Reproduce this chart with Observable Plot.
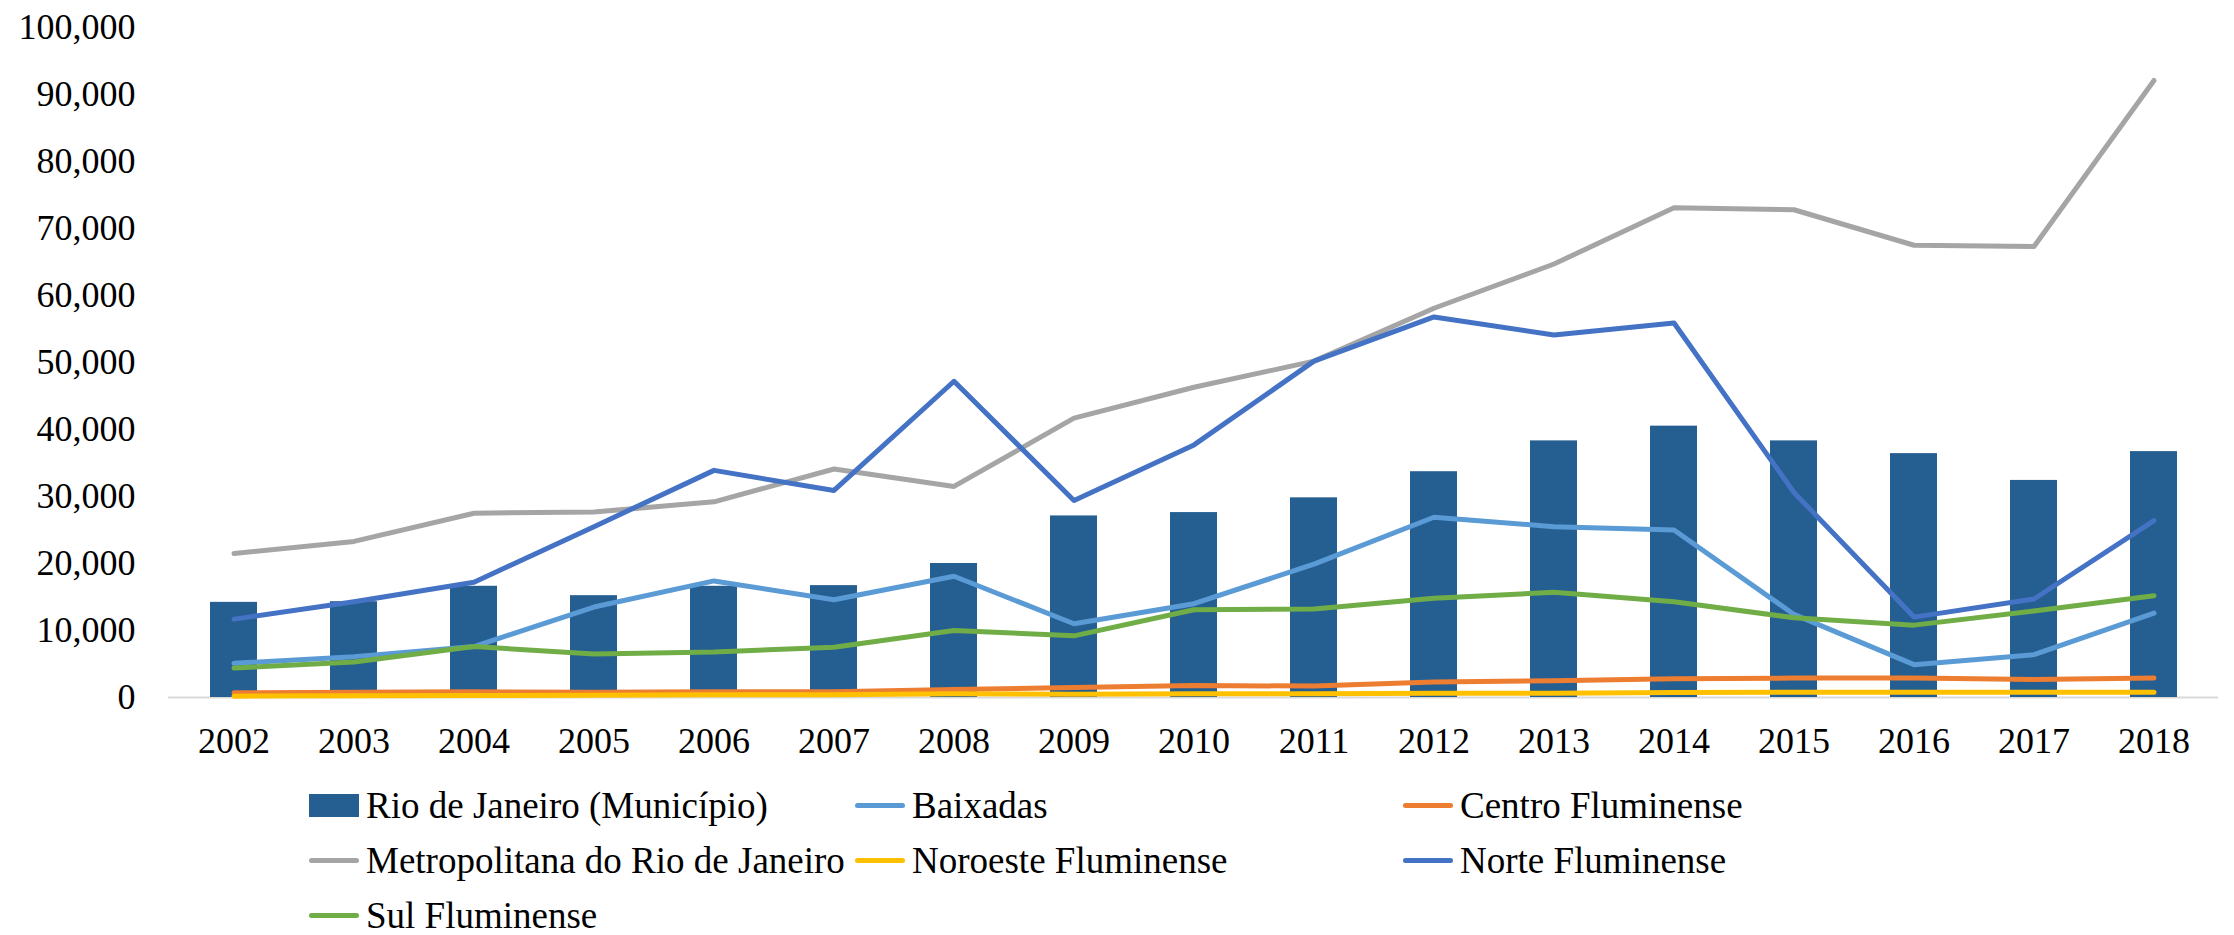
<!DOCTYPE html>
<html><head><meta charset="utf-8">
<script src="https://cdn.jsdelivr.net/npm/d3@7"></script>
<script src="https://cdn.jsdelivr.net/npm/@observablehq/plot@0.6"></script>
<style>
html,body{margin:0;padding:0;background:#fff;font-family:"Liberation Serif","Times New Roman",serif;}
body{height:935px;overflow:hidden;}
#legend{display:grid;grid-template-columns:546px 548px auto;grid-auto-rows:55px;height:156px;padding-left:309px;font-size:37px;line-height:1;color:#000;}
.item{display:flex;align-items:center;white-space:nowrap;}
.sw{width:50px;margin-right:7px;flex:none;}
</style></head><body><div id="chart"></div><div id="legend"></div>
<script>
const years = ["2002","2003","2004","2005","2006","2007","2008","2009","2010","2011","2012","2013","2014","2015","2016","2017","2018"];
const barName = "Rio de Janeiro (Município)";
const rio      = [14200,14300,16600,15200,16600,16700,20000,27100,27600,29800,33700,38300,40500,38300,36400,32400,36700];
const baixadas = [5100,6100,7600,13500,17400,14600,18100,11000,14000,19900,26900,25500,25000,12400,4900,6400,12600];
const centro   = [700,800,850,800,850,850,1200,1500,1800,1700,2300,2500,2800,2900,2900,2700,2900];
const metro    = [21500,23300,27500,27700,29200,34100,31500,41700,46300,50200,58100,64700,73100,72800,67500,67300,92100];
const noroeste = [200,250,300,350,400,400,550,500,550,550,650,650,750,800,800,800,800];
const norte    = [11700,14300,17200,25500,33900,30900,47200,29400,37700,50200,56800,54100,55900,30600,12000,14700,26400];
const sul      = [4400,5300,7600,6500,6800,7500,10000,9200,13100,13200,14800,15700,14300,11900,10800,12900,15200];
const lineNames = ["Baixadas","Centro Fluminense","Metropolitana do Rio de Janeiro","Noroeste Fluminense","Norte Fluminense","Sul Fluminense"];
const lineValues = [baixadas, centro, metro, noroeste, norte, sul];
const yTicks = [0,10000,20000,30000,40000,50000,60000,70000,80000,90000,100000];

const barColor = "#255E91";
const lineColors = ["#5B9BD5","#ED7D31","#A5A5A5","#FFC000","#4472C4","#70AD47"];

const barRows = years.map((y,i)=>({year:y, value:rio[i]}));
const lineRows = [];
lineNames.forEach((n,k)=>years.forEach((y,i)=>lineRows.push({series:n, year:y, value:lineValues[k][i]})));

const chart = Plot.plot({
  width: 2234, height: 778,
  marginTop: 27, marginBottom: 81, marginLeft: 168, marginRight: 16,
  style: {fontFamily: "'Liberation Serif', 'Times New Roman', serif", fontSize: "36px", color: "#000", background: "#fff", overflow: "visible"},
  x: {type: "band", domain: years, paddingInner: 0.61, paddingOuter: 0.305, label: null, tickSize: 0, tickPadding: 30},
  y: {domain: [0, 100000], ticks: yTicks, tickFormat: d3.format(","), label: null, tickSize: 0, tickPadding: 33},
  color: {domain: lineNames, range: lineColors},
  marks: [
    Plot.ruleY([0], {stroke: "#D9D9D9", strokeWidth: 2}),
    Plot.barY(barRows, {x: "year", y: "value", fill: barColor}),
    Plot.line(lineRows, {x: "year", y: "value", z: "series", stroke: "series", strokeWidth: 5, strokeLinecap: "round", strokeLinejoin: "round"})
  ]
});
document.getElementById("chart").appendChild(chart);

const legend = document.getElementById("legend");
const items = [{name: barName, color: barColor, bar: true}].concat(lineNames.map((n,k)=>({name:n, color: lineColors[k], bar:false})));
items.forEach(it=>{
  const d = document.createElement("div"); d.className = "item";
  const s = document.createElement("span"); s.className = "sw";
  s.style.background = it.color;
  if (it.bar) { s.style.height = "23px"; } else { s.style.height = "5px"; s.style.borderRadius = "3px"; }
  const t = document.createElement("span"); t.textContent = it.name;
  d.appendChild(s); d.appendChild(t); legend.appendChild(d);
});
</script></body></html>
